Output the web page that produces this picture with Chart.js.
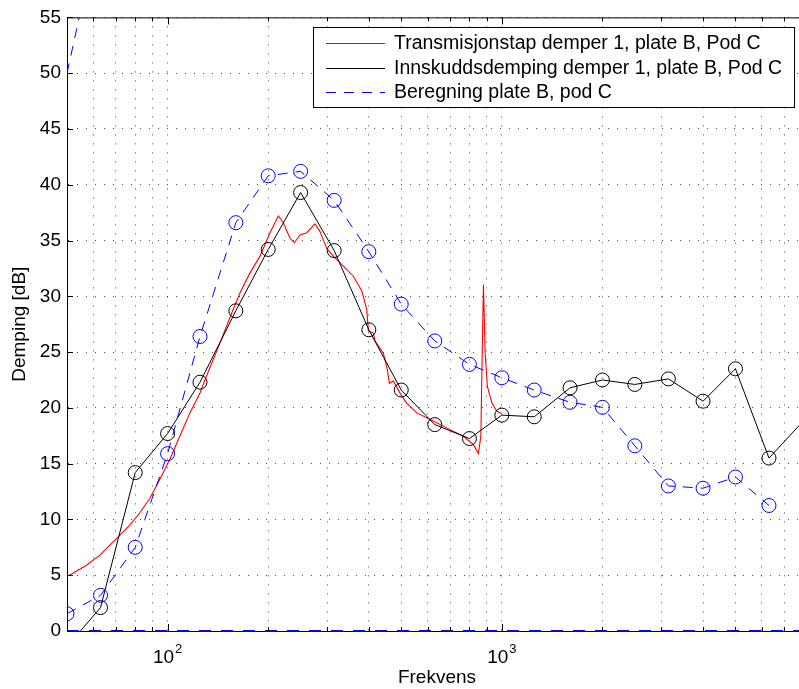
<!DOCTYPE html>
<html>
<head>
<meta charset="utf-8">
<script src="https://cdn.jsdelivr.net/npm/chart.js@4.4.0/dist/chart.umd.min.js"></script>
<style>
html, body { margin: 0; padding: 0; background: #fff; overflow: hidden; }
#wrap { width: 800px; height: 689px; }
</style>
</head>
<body>
<div id="wrap"><canvas id="chart" width="800" height="689"></canvas></div>
<script>
// third-octave bands
var bandFreq = [50, 63, 80, 100, 125, 160, 200, 250, 315, 400, 500, 630, 800,
                1000, 1250, 1600, 2000, 2500, 3150, 4000, 5000, 6300, 8000];

// Innskuddsdemping (black, circles)
var innskuddVals = [-1.4, 2.1, 14.2, 17.7, 22.3, 28.7, 34.2, 39.3, 34.1, 27.0, 21.6, 18.5, 17.25,
                    19.35, 19.2, 21.8, 22.5, 22.1, 22.6, 20.6, 23.5, 15.5, 18.85];

// Beregning (blue dashed, circles)
var beregningFreq = [50, 63, 80, 100, 125, 160, 200, 250, 315, 400, 500, 630, 800,
                     1000, 1250, 1600, 2000, 2500, 3150, 4000, 5000, 6300];
var beregningVals = [1.55, 3.2, 7.5, 15.9, 26.4, 36.6, 40.8, 41.2, 38.6, 34.0, 29.3, 26.0, 23.9,
                     22.7, 21.6, 20.5, 20.05, 16.6, 13.0, 12.8, 13.8, 11.25];

// extra blue pieces: the stub at top left and the line along zero
var beregningTopFreq = [50, 54.4];
var beregningTopVals = [50, 55];
var beregningZeroFreq = [50, 7800];
var beregningZeroVals = [0, 0];

// Transmisjonstap (red, continuous curve)
var transFreq = [50, 52.2, 57.2, 62.7, 67.2, 72.0, 77.1, 82.6, 88.5, 94.8, 101.6, 108.9, 116.6,
                 124.9, 129.3, 133.8, 143.4, 153.6, 164.6, 176.4, 189.0, 202.5, 214.4, 221.9,
                 232.4, 239.3, 248.9, 260.8, 276.1, 285.8, 299.2, 313.2, 335.6, 359.6, 380.9,
                 394.3, 398.7, 412.6, 417.5, 442.1, 454.5, 460.8, 473.6, 496.2, 519.6, 556.8,
                 610.1, 700.2, 767.4, 822.2, 851.2, 865.4, 875.1, 881.2, 891.3, 905.6, 933.5,
                 966.1, 1000];
var transVals = [4.9, 5.2, 5.9, 6.8, 7.7, 8.6, 9.5, 10.6, 11.9, 13.6, 15.4, 17.5, 19.55,
                 21.3, 22.5, 23.6, 25.8, 28.1, 30.3, 32.1, 33.6, 35.7, 37.2, 36.6,
                 35.2, 34.8, 35.5, 35.7, 36.5, 35.8, 34.3, 33.6, 32.7, 31.8, 30.5,
                 28.8, 26.9, 26.7, 26.0, 24.9, 23.4, 22.2, 22.4, 21.3, 20.4, 19.55,
                 18.95, 18.05, 17.45, 16.7, 15.9, 17.45, 26.4, 31.05, 24.9, 21.9, 20.45,
                 19.7, 19.5];

var yTicks = [0, 5, 10, 15, 20, 25, 30, 35, 40, 45, 50, 55];
var xDecades = [100, 1000];

var xMin = 50, xMax = 7800, yMin = 0, yMax = 55;

function pairs(xs, ys) {
    return xs.map(function (x, i) { return { x: x, y: ys[i] }; });
}

// MATLAB does not draw markers for points outside the axes
function markerRadius(ctx) {
    var p = ctx.raw;
    if (!p || p.x > xMax || p.x < xMin || p.y < yMin || p.y > yMax) return 0;
    return 7;
}

var FONT = '"Liberation Sans", Arial, sans-serif';
Chart.defaults.font.family = FONT;
Chart.defaults.font.size = 19;
Chart.defaults.color = '#000';

var matlabFrame = {
    id: 'matlabFrame',
    afterDraw: function (chart) {
        var ctx = chart.ctx, a = chart.chartArea;
        var xs = chart.scales.x, ys = chart.scales.y;
        ctx.save();
        ctx.strokeStyle = '#000';
        ctx.lineWidth = 1;
        ctx.beginPath();
        ctx.moveTo(a.left, a.top + 0.5);
        ctx.lineTo(a.right, a.top + 0.5);
        // inward ticks on y
        yTicks.forEach(function (v) {
            var y = Math.round(ys.getPixelForValue(v)) + 0.5;
            ctx.moveTo(a.left, y);
            ctx.lineTo(a.left + 6, y);
        });
        // inward ticks on x (top and bottom)
        xs.ticks.forEach(function (t) {
            var v = t.value;
            if (v <= xMin || v >= xMax) return;
            var x = Math.round(xs.getPixelForValue(v)) + 0.5;
            var len = xDecades.indexOf(v) >= 0 ? 7 : 4;
            ctx.moveTo(x, a.bottom);
            ctx.lineTo(x, a.bottom - len);
            ctx.moveTo(x, a.top);
            ctx.lineTo(x, a.top + len);
        });
        ctx.stroke();

        // x tick labels 10^n
        ctx.fillStyle = '#000';
        ctx.textBaseline = 'alphabetic';
        xDecades.forEach(function (v) {
            var x = xs.getPixelForValue(v);
            var exp = String(Math.round(Math.log10(v)));
            ctx.font = '19px ' + FONT;
            var w1 = ctx.measureText('10').width;
            ctx.font = '13px ' + FONT;
            var w2 = ctx.measureText(exp).width;
            var left = x - (w1 + w2 + 1) / 2;
            ctx.font = '19px ' + FONT;
            ctx.textAlign = 'left';
            ctx.fillText('10', left, 663);
            ctx.font = '13px ' + FONT;
            ctx.fillText(exp, left + w1 + 1, 653);
        });

        // axis titles
        ctx.font = '19px ' + FONT;
        ctx.textAlign = 'center';
        ctx.fillText('Frekvens', 437, 683);
        ctx.save();
        ctx.translate(25, (a.top + a.bottom) / 2);
        ctx.rotate(-Math.PI / 2);
        ctx.fillText('Demping [dB]', 0, 0);
        ctx.restore();

        // legend box
        var bx = 313.5, by = 27.5, bw = 481, bh = 80;
        ctx.fillStyle = '#fff';
        ctx.fillRect(bx, by, bw, bh);
        ctx.strokeStyle = '#000';
        ctx.strokeRect(bx, by, bw, bh);
        var rows = [42.5, 68, 92];
        var items = chart.data.datasets.filter(function (d) { return d.inLegend; }).reverse();
        items.forEach(function (d, i) {
            var y = Math.round(rows[i]) + 0.5;
            ctx.strokeStyle = d.borderColor;
            ctx.lineWidth = 1;
            ctx.setLineDash(d.borderDash || []);
            ctx.beginPath();
            ctx.moveTo(326, y);
            ctx.lineTo(385, y);
            ctx.stroke();
            ctx.setLineDash([]);
            ctx.fillStyle = '#000';
            ctx.textAlign = 'left';
            ctx.textBaseline = 'middle';
            ctx.font = '19.5px ' + FONT;
            ctx.fillText(d.label, 394, rows[i] + 1);
        });
        ctx.restore();
    }
};

new Chart(document.getElementById('chart'), {
    type: 'line',
    data: {
        datasets: [
            {
                label: 'zero',
                data: pairs(beregningZeroFreq, beregningZeroVals),
                borderColor: '#0000ff',
                borderWidth: 2,
                borderDash: [12, 10],
                pointRadius: 0,
                clip: 3,
                order: 0
            },
            {
                label: 'top',
                data: pairs(beregningTopFreq, beregningTopVals),
                borderColor: '#0000ff',
                borderWidth: 1,
                borderDash: [10, 8],
                pointRadius: 0,
                order: 0
            },
            {
                label: 'Beregning plate B, pod C',
                inLegend: true,
                data: pairs(beregningFreq, beregningVals),
                borderColor: '#0000ff',
                borderWidth: 1,
                borderDash: [10, 8],
                pointRadius: markerRadius,
                pointBorderColor: '#0000ff',
                pointBackgroundColor: 'rgba(0,0,0,0)',
                pointBorderWidth: 1,
                order: 0
            },
            {
                label: 'Innskuddsdemping demper 1, plate B, Pod C',
                inLegend: true,
                data: pairs(bandFreq, innskuddVals),
                borderColor: '#000000',
                borderWidth: 1,
                pointRadius: markerRadius,
                pointBorderColor: '#000000',
                pointBackgroundColor: 'rgba(0,0,0,0)',
                pointBorderWidth: 1,
                order: 1
            },
            {
                label: 'Transmisjonstap demper 1, plate B, Pod C',
                inLegend: true,
                data: pairs(transFreq, transVals),
                borderColor: '#ff0000',
                borderWidth: 1.1,
                pointRadius: 0,
                order: 2
            }
        ]
    },
    options: {
        responsive: false,
        animation: false,
        layout: { autoPadding: false, padding: { top: 17, right: 0, left: 0, bottom: 0 } },
        plugins: {
            legend: { display: false },
            tooltip: { enabled: false }
        },
        scales: {
            x: {
                type: 'logarithmic',
                min: xMin,
                max: xMax,
                afterFit: function (s) { s.height = 58; },
                afterBuildTicks: function (s) {
                    var t = [];
                    [10, 100, 1000].forEach(function (d) {
                        for (var k = 1; k <= 9; k++) {
                            var v = k * d;
                            if (v >= xMin && v <= xMax) t.push({ value: v });
                        }
                    });
                    s.ticks = t;
                },
                ticks: { display: false },
                grid: { color: 'rgba(0,0,0,0.7)', lineWidth: 1, drawTicks: false },
                border: { display: true, color: '#000', width: 1, dash: [1, 8] }
            },
            y: {
                min: yMin,
                max: yMax,
                afterFit: function (s) { s.width = 67; },
                afterBuildTicks: function (s) {
                    s.ticks = yTicks.map(function (v) { return { value: v }; });
                },
                ticks: { padding: 6, color: '#000', font: { size: 19 } },
                grid: { color: 'rgba(0,0,0,0.7)', lineWidth: 1, drawTicks: false },
                border: { display: true, color: '#000', width: 1, dash: [1, 8] }
            }
        }
    },
    plugins: [matlabFrame]
});
</script>
</body>
</html>
